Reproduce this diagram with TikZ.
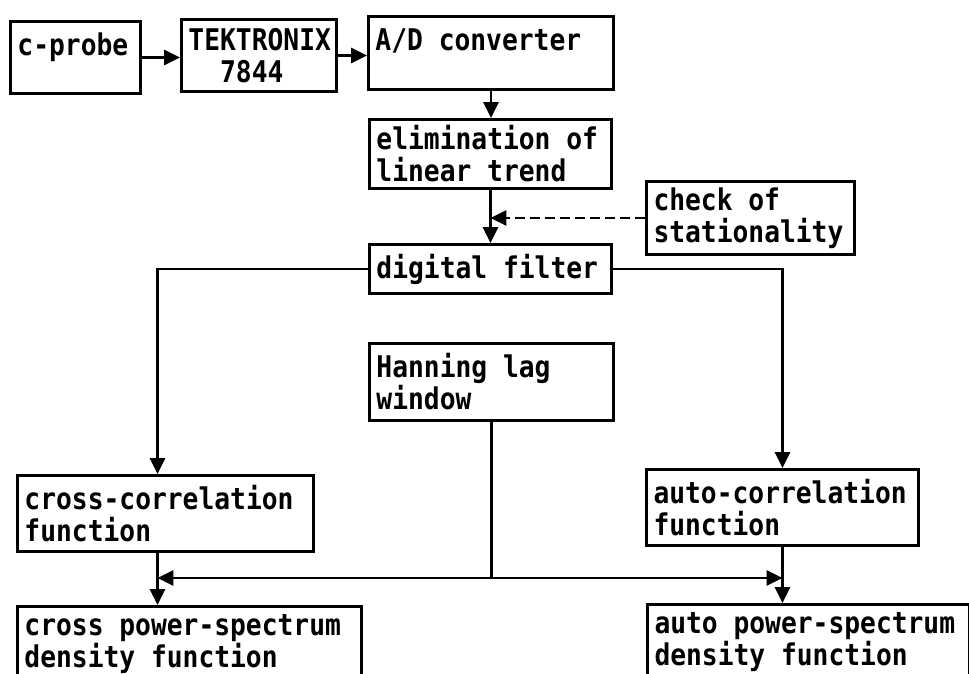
\documentclass[tikz,border=0pt]{standalone}
\usepackage{fontspec}
\newfontfamily\boxfont[FakeStretch=0.88]{DejaVu Sans Mono}
\newcommand\blkfont{\boxfont\fontsize{17pt}{18.2pt}\bfseries\selectfont}
\usetikzlibrary{arrows.meta}

\tikzset{
  blk/.style={draw, line width=1.7pt, anchor=north west, align=left,
    inner xsep=0.14cm, inner ysep=0pt, font=\blkfont,
    execute at begin node={\spaceskip=9pt\xspaceskip=9pt\relax}},
  wire/.style={line width=1.6pt},
  conn/.style={wire, -{Triangle[length=9pt,width=8.5pt]}},
  feed/.style={conn, dash pattern=on 0.2cm off 0.1cm},
}

\begin{document}
\begin{tikzpicture}[x=0.02cm, y=-0.02cm]
    \clip (0,0) rectangle (969,673);
    % acquisition chain
    \node[blk, text width=2.32cm, minimum height=1.44cm] (probe) at (9,20) {c-probe\\[-8pt]\strut};
    \node[blk, text width=2.82cm, minimum height=1.44cm] (tek) at (180,18) {TEKTRONIX\\\phantom{TE}7844};
    \node[blk, text width=4.62cm, minimum height=1.46cm] (adc) at (367,15) {A/D converter\\[-8pt]\strut};
    \node[blk, text width=4.56cm, minimum height=1.38cm] (trend) at (368,118) {elimination of\\linear trend};
    \node[blk, text width=3.88cm, minimum height=1.46cm] (check) at (645,180) {check of\\stationality};
    \node[blk, text width=4.56cm, minimum height=0.98cm] (filter) at (368,243) {digital filter};
    % analysis
    \node[blk, text width=4.60cm, minimum height=1.54cm] (hann) at (368,342) {Hanning lag\\window};
    \node[blk, text width=5.64cm, minimum height=1.52cm] (xcorr) at (16,474) {cross-correlation\\function};
    \node[blk, text width=5.16cm, minimum height=1.52cm] (acorr) at (645,468) {auto-correlation\\function};
    \node[blk, text width=6.60cm, minimum height=1.52cm] (xpow) at (16,605) {cross power-spectrum\\density function};
    \node[blk, text width=6.16cm, minimum height=1.52cm] (apow) at (646,603) {auto power-spectrum\\density function};

    \coordinate (xtap) at ([xshift=-0.16cm]xcorr.north);
    \coordinate (xout) at ([xshift=-0.16cm]xcorr.south);
    \path (hann.south) ++(0,156) coordinate (join);

    \draw[conn] (probe.east) -- (tek.west |- probe.east);
    \draw[conn] (tek.east) -- (adc.west |- tek.east);
    \draw[conn] (adc.south) -- (adc.south |- trend.north);
    \draw[conn] (trend.south) -- (trend.south |- filter.north);
    \draw[feed] (check.west) -- (check.west -| trend.south);
    \draw[conn] (filter.west) -| (xtap);
    \draw[conn] (filter.east) -| (acorr.north);
    \draw[conn] (xout) -- (xout |- xpow.north);
    \draw[conn] (acorr.south) -- (acorr.south |- apow.north);
    \draw[wire] (hann.south) -- (join);
    \draw[conn] (join) -- (join -| xout);
    \draw[conn] (join) -- (join -| acorr.south);
\end{tikzpicture}
\end{document}
